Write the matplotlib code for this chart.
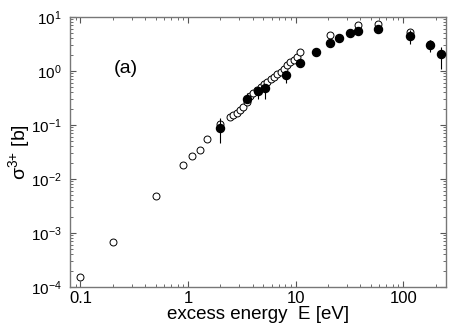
import matplotlib
matplotlib.use("Agg")
import matplotlib.pyplot as plt
from matplotlib.ticker import LogLocator, FixedLocator, FixedFormatter, NullFormatter
import numpy as np

plt.rcParams['font.family'] = ['Liberation Sans', 'DejaVu Sans']
plt.rcParams['mathtext.fontset'] = 'custom'
plt.rcParams['mathtext.rm'] = 'Liberation Sans'
plt.rcParams['mathtext.it'] = 'Liberation Sans:italic'

# open circles (theory / other data)
open_x = [0.1, 0.2, 0.5, 0.9, 1.1, 1.3, 1.5, 2.0, 2.45, 2.63, 2.83, 3.04, 3.27, 3.5,
          3.76, 4.05, 4.35, 4.74, 5.09, 5.47, 5.88, 6.31, 6.79, 7.29, 7.8, 8.3, 8.9,
          9.6, 10.3, 11.0, 20.8, 38.0, 58.0, 117.0, 176.0]
open_y = [1.5e-4, 6.8e-4, 4.9e-3, 0.018, 0.027, 0.035, 0.054, 0.103, 0.139, 0.153,
          0.169, 0.190, 0.213, 0.27, 0.344, 0.386, 0.44, 0.499, 0.574, 0.634, 0.702,
          0.784, 0.88, 0.97, 1.1, 1.3, 1.45, 1.6, 1.84, 2.25, 4.58, 7.11, 7.58, 5.27, 3.2]

# filled circles (measured) with error bars
filled_x = [2.0, 3.56, 4.47, 5.16, 8.07, 11.0, 15.6, 20.8, 25.4, 32.4, 38.0, 58.0, 117.0, 176.0, 225.0]
filled_y = [0.087, 0.307, 0.426, 0.478, 0.843, 1.42, 2.25, 3.30, 4.08, 5.12, 5.51, 6.0, 4.5, 3.07, 2.04]
filled_lo = [0.046, 0.252, 0.30, 0.30, 0.59, 1.30, 2.10, 3.10, 3.85, 4.80, 5.0, 5.3, 3.16, 2.25, 1.07]
filled_hi = [0.134, 0.386, 0.512, 0.574, 0.97, 1.55, 2.40, 3.50, 4.30, 5.45, 6.2, 6.8, 5.7, 3.75, 2.8]

xtick_vals = [0.1, 1, 10, 100]
xtick_labels = ['0.1', '1', '10', '100']

fig = plt.figure(figsize=(4.5, 3.27), dpi=100)
ax = fig.add_axes([0.1556, 0.1223, 0.8354, 0.8257])

fy = np.array(filled_y)
yerr = [fy - np.array(filled_lo), np.array(filled_hi) - fy]
ax.errorbar(filled_x, filled_y, yerr=yerr, fmt='o', color='black', ms=5.8,
            elinewidth=0.8, capsize=0, zorder=3)
ax.plot(open_x, open_y, 'o', mfc='white', mec='black', mew=0.7, ms=5, zorder=2)

ax.set_xscale('log')
ax.set_yscale('log')
ax.set_xlim(0.08, 250)
ax.set_ylim(1e-4, 1e1)

ax.xaxis.set_major_locator(FixedLocator(xtick_vals))
ax.xaxis.set_major_formatter(FixedFormatter(xtick_labels))
ax.xaxis.set_minor_locator(LogLocator(base=10, subs=np.arange(2, 10), numticks=20))
ax.xaxis.set_minor_formatter(NullFormatter())
ax.yaxis.set_major_locator(LogLocator(base=10, numticks=10))
ax.yaxis.set_minor_locator(LogLocator(base=10, subs=np.arange(2, 10), numticks=20))
ax.yaxis.set_minor_formatter(NullFormatter())

ax.tick_params(which='both', direction='in', top=True, right=True, colors='#555555',
               labelcolor='black')
ax.tick_params(axis='x', labelsize=12, pad=3)
ax.tick_params(axis='y', labelsize=11, pad=6)
ax.tick_params(which='major', length=4, width=0.8)
ax.tick_params(which='minor', length=2, width=0.6)
for s in ax.spines.values():
    s.set_color('#777777')
    s.set_linewidth(1.0)

ax.set_xlabel('excess energy  E [eV]', fontsize=13.5, labelpad=0)
ax.set_ylabel('σ$^{3{+}}$ [b]', fontsize=14, labelpad=-1)
ax.text(0.148, 0.81, '(a)', transform=ax.transAxes, fontsize=14, ha='center', va='center')

fig.savefig('out.png', dpi=100)
